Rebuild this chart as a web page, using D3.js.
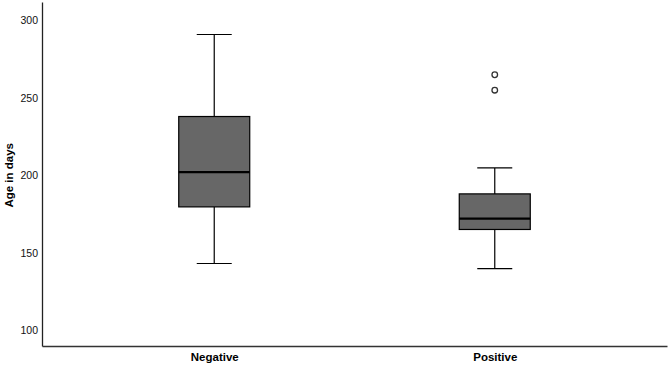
<!DOCTYPE html>
<html>
<head>
<meta charset="utf-8">
<script src="https://cdn.jsdelivr.net/npm/d3@7"></script>
<style>
  body { margin: 0; background: #fff; }
  text { font-family: "Liberation Sans", Arial, sans-serif; }
</style>
</head>
<body>
<div id="chart"></div>
<script>
const categories = ["Negative", "Positive"]
const whiskerLow = [143, 139.7]
const q1 = [179.6, 165]
const median = [202, 172]
const q3 = [238, 188]
const whiskerHigh = [291, 204.8]
const outliers = [[], [255, 265]]
const yTicks = [100, 150, 200, 250, 300]

const width = 669
const height = 367
const margins = {top: 2, right: 2, bottom: 21, left: 42}

const svg = d3.select("#chart")
    .append("svg")
    .attr("width", width)
    .attr("height", height)

const xScale = d3.scalePoint()
    .domain(categories)
    .range([margins.left, width - margins.right])
    .padding(0.614)

const yScale = d3.scaleLinear()
    .domain([89.7, 312])
    .range([height - margins.bottom, margins.top])

const boxW = 71
const capW = 35

const boxes = categories.map((c, i) => ({
    cat: c, lo: whiskerLow[i], q1: q1[i], med: median[i], q3: q3[i], hi: whiskerHigh[i], out: outliers[i]
}))

const g = svg.selectAll("g.box")
    .data(boxes)
    .enter()
    .append("g")
    .attr("class", "box")

// whisker stems
g.append("line")
    .attr("x1", d => xScale(d.cat)).attr("x2", d => xScale(d.cat))
    .attr("y1", d => yScale(d.hi)).attr("y2", d => yScale(d.q3))
    .attr("stroke", "#000").attr("stroke-width", 1.2)
g.append("line")
    .attr("x1", d => xScale(d.cat)).attr("x2", d => xScale(d.cat))
    .attr("y1", d => yScale(d.q1)).attr("y2", d => yScale(d.lo))
    .attr("stroke", "#000").attr("stroke-width", 1.2)

// caps
g.selectAll("line.cap")
    .data(d => [d.lo, d.hi].map(v => ({cat: d.cat, v})))
    .enter()
    .append("line")
    .attr("class", "cap")
    .attr("x1", d => xScale(d.cat) - capW / 2).attr("x2", d => xScale(d.cat) + capW / 2)
    .attr("y1", d => yScale(d.v)).attr("y2", d => yScale(d.v))
    .attr("stroke", "#000").attr("stroke-width", 1.2)

g.append("rect")
    .attr("x", d => xScale(d.cat) - boxW / 2)
    .attr("y", d => yScale(d.q3))
    .attr("width", boxW)
    .attr("height", d => yScale(d.q1) - yScale(d.q3))
    .attr("fill", "#676767")
    .attr("stroke", "#000")
    .attr("stroke-width", 1.2)

g.append("line")
    .attr("x1", d => xScale(d.cat) - boxW / 2).attr("x2", d => xScale(d.cat) + boxW / 2)
    .attr("y1", d => yScale(d.med)).attr("y2", d => yScale(d.med))
    .attr("stroke", "#000").attr("stroke-width", 2.2)

g.selectAll("circle")
    .data(d => d.out.map(v => ({cat: d.cat, v})))
    .enter()
    .append("circle")
    .attr("cx", d => xScale(d.cat))
    .attr("cy", d => yScale(d.v))
    .attr("r", 2.8)
    .attr("fill", "#fff")
    .attr("stroke", "#333")
    .attr("stroke-width", 1.3)

// axes
const yAxis = d3.axisLeft(yScale).tickValues(yTicks).tickSize(0).tickPadding(4)
svg.append("g")
    .attr("transform", `translate(${margins.left},0)`)
    .call(yAxis)
    .call(a => a.select(".domain").attr("stroke", "#222").attr("stroke-width", 1.3))
    .call(a => a.selectAll("text").attr("font-size", 10.5).attr("fill", "#111")
        .style("font-family", "'Liberation Sans', Arial, sans-serif"))

const xAxis = d3.axisBottom(xScale).tickSize(0).tickPadding(7)
svg.append("g")
    .attr("transform", `translate(0,${height - margins.bottom})`)
    .call(xAxis)
    .call(a => a.select(".domain").attr("stroke", "#333").attr("stroke-width", 1.3))
    .call(a => a.selectAll("text").attr("font-size", 11.5).attr("font-weight", "bold").attr("fill", "#000")
        .style("font-family", "'Liberation Sans', Arial, sans-serif"))

svg.append("text")
    .attr("transform", `translate(10,${yScale(200)}) rotate(-90)`)
    .attr("text-anchor", "middle")
    .attr("dominant-baseline", "middle")
    .attr("font-size", 11.5)
    .attr("font-weight", "bold")
    .text("Age in days")
</script>
</body>
</html>
